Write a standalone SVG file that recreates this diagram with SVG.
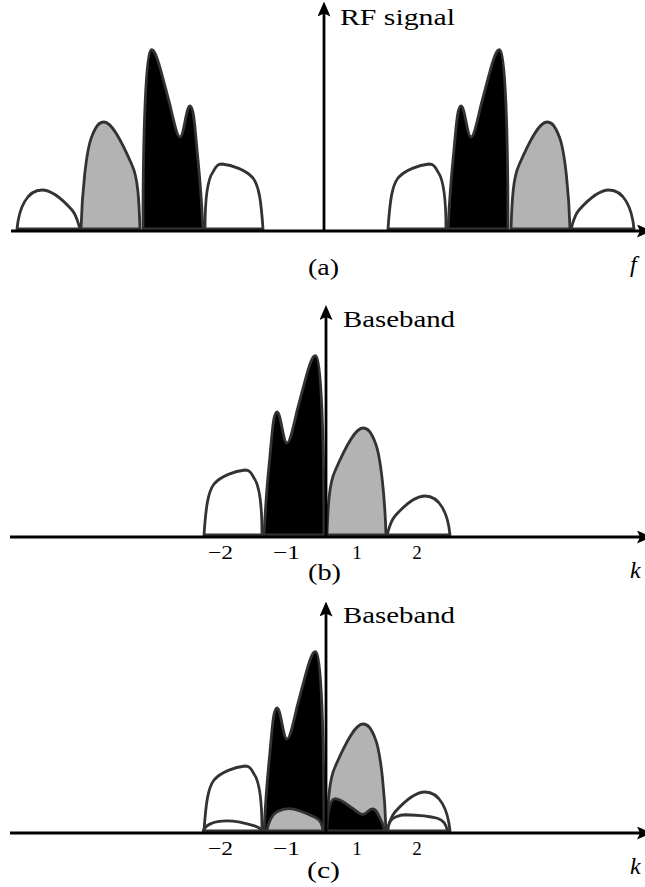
<svg xmlns="http://www.w3.org/2000/svg" xmlns:xlink="http://www.w3.org/1999/xlink" width="645" height="887" viewBox="0 0 645 887">
  <style>
    .lobe { stroke: #333333; stroke-width: 2.8; stroke-linejoin: round; }
    .w { fill: #ffffff; }
    .g { fill: #b3b3b3; }
    .k { fill: #000000; }
    .axis { stroke: #000000; stroke-width: 2.8; fill: none; marker-end: url(#arr); }
    .lbl { font-family: "Liberation Serif", serif; fill: #000000; }
    .big { font-size: 24px; }
    .tick { font-size: 19px; }
    .it { font-style: italic; }
  </style>
  <defs>
    <marker id="arr" viewBox="0 0 15 13" refX="4" refY="6.5" markerWidth="15" markerHeight="13" markerUnits="userSpaceOnUse" orient="auto">
      <path d="M0,0 L15,6.5 L0,13 L3,6.5 Z" fill="#000000"/>
    </marker>
    <path id="W1" vector-effect="non-scaling-stroke" d="M17,229 C19,208 27,190 42,190 C52,190 64,201 72,210 C77,216 78,223 80,229 Z"/>
    <path id="G" vector-effect="non-scaling-stroke" d="M81,229 C82,195 86,150 92,136 C96,126 99,122 104,122 C112,122 122,142 132,165 C138,178 139,200 140,229 Z"/>
    <path id="B" vector-effect="non-scaling-stroke" d="M143,229 C143,130 146,52 151,50 C156,46 163,80 170,105 C174,122 177,137 180,137 C184,137 186,106 190,106 C194,106 195,130 198,160 C201,190 202,210 203,229 Z"/>
    <path id="W2" vector-effect="non-scaling-stroke" d="M205,229 C205,205 207,180 213,172 C216,166 218,164 222,164 C232,165 246,170 253,178 C259,186 261,200 263,229 Z"/>
  </defs>

  <!-- Panel (a): RF signal -->
  <g id="panel-a">
    <g id="a-left-w1"><use xlink:href="#W1" class="lobe w"/></g>
    <g id="a-left-g"><use xlink:href="#G" class="lobe g"/></g>
    <g id="a-left-b"><use xlink:href="#B" class="lobe k"/></g>
    <g id="a-left-w2"><use xlink:href="#W2" class="lobe w"/></g>
    <g id="a-right" transform="translate(651,0) scale(-1,1)">
      <g id="a-right-w1"><use xlink:href="#W1" class="lobe w"/></g>
      <g id="a-right-g"><use xlink:href="#G" class="lobe g"/></g>
      <g id="a-right-b"><use xlink:href="#B" class="lobe k"/></g>
      <g id="a-right-w2"><use xlink:href="#W2" class="lobe w"/></g>
    </g>
  </g>

  <!-- Panel (b): Baseband -->
  <g id="panel-b">
    <g transform="translate(467,306) scale(-1,1)">
      <g id="b-w2"><use xlink:href="#W1" class="lobe w"/></g>
      <g id="b-g1"><use xlink:href="#G" class="lobe g"/></g>
      <g id="b-bm1"><use xlink:href="#B" class="lobe k"/></g>
      <g id="b-wm2"><use xlink:href="#W2" class="lobe w"/></g>
    </g>
  </g>

  <!-- Panel (c): Baseband with images -->
  <g id="panel-c">
    <g transform="translate(467,602) scale(-1,1)">
      <g id="c-w2"><use xlink:href="#W1" class="lobe w"/></g>
      <g id="c-g1"><use xlink:href="#G" class="lobe g"/></g>
      <g id="c-bm1"><use xlink:href="#B" class="lobe k"/></g>
      <g id="c-wm2"><use xlink:href="#W2" class="lobe w"/></g>
    </g>
    <g id="c-img-wm2"><use xlink:href="#W1" class="lobe w" transform="translate(187,831) scale(0.95,0.26) translate(0,-229)"/></g>
    <g id="c-img-gm1"><use xlink:href="#G" class="lobe g" transform="translate(190,831) scale(0.95,0.21) translate(0,-229)"/></g>
    <g id="c-img-b1"><use xlink:href="#B" class="lobe k" transform="translate(188.7,831) scale(0.967,0.18) translate(0,-229)"/></g>
    <g id="c-img-w2"><use xlink:href="#W2" class="lobe w" transform="translate(176.8,831) scale(1.03,0.25) translate(0,-229)"/></g>
  </g>

  <!-- Axes -->
  <g id="connectors">
    <line class="axis" x1="11" y1="231" x2="641" y2="231"/>
    <line class="axis" x1="324" y1="231" x2="324" y2="12.5"/>
    <line class="axis" x1="10" y1="537" x2="641" y2="537"/>
    <line class="axis" x1="326" y1="537" x2="326" y2="316"/>
    <line class="axis" x1="10" y1="833" x2="641" y2="833"/>
    <line class="axis" x1="326" y1="833" x2="326" y2="612.5"/>
  </g>

  <!-- Labels -->
  <g id="labels">
    <text class="lbl big" x="340" y="25" textLength="115" lengthAdjust="spacingAndGlyphs">RF signal</text>
    <text class="lbl big" x="308" y="275" textLength="31" lengthAdjust="spacingAndGlyphs">(a)</text>
    <text class="lbl big it" x="630" y="272">f</text>

    <text class="lbl big" x="343" y="327" textLength="112" lengthAdjust="spacingAndGlyphs">Baseband</text>
    <text class="lbl tick" x="208" y="559" textLength="25" lengthAdjust="spacingAndGlyphs">−2</text>
    <text class="lbl tick" x="273" y="559" textLength="27" lengthAdjust="spacingAndGlyphs">−1</text>
    <text class="lbl tick" x="357" y="559" text-anchor="middle">1</text>
    <text class="lbl tick" x="417" y="559" text-anchor="middle">2</text>
    <text class="lbl big" x="308" y="580" textLength="33" lengthAdjust="spacingAndGlyphs">(b)</text>
    <text class="lbl big it" x="630" y="578">k</text>

    <text class="lbl big" x="343" y="623" textLength="112" lengthAdjust="spacingAndGlyphs">Baseband</text>
    <text class="lbl tick" x="208" y="855" textLength="25" lengthAdjust="spacingAndGlyphs">−2</text>
    <text class="lbl tick" x="273" y="855" textLength="27" lengthAdjust="spacingAndGlyphs">−1</text>
    <text class="lbl tick" x="357" y="855" text-anchor="middle">1</text>
    <text class="lbl tick" x="417" y="855" text-anchor="middle">2</text>
    <text class="lbl big" x="307" y="878" textLength="33" lengthAdjust="spacingAndGlyphs">(c)</text>
    <text class="lbl big it" x="630" y="874">k</text>
  </g>
</svg>
